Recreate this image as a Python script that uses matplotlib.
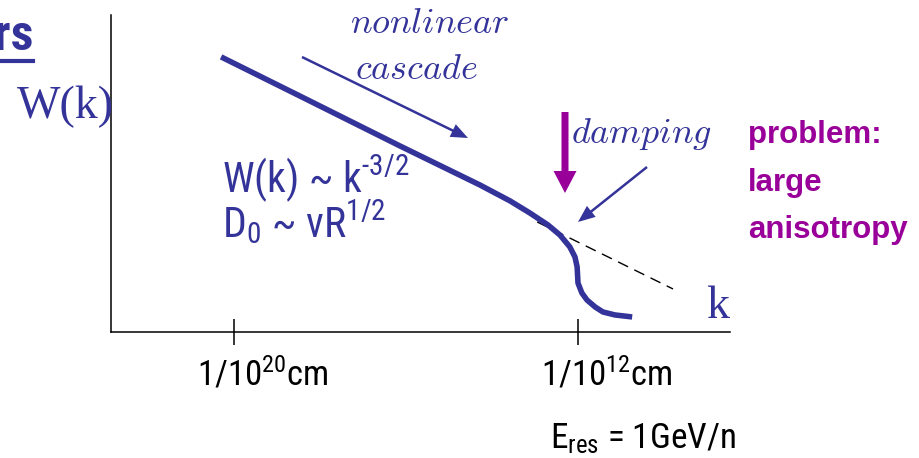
import matplotlib
matplotlib.use("Agg")
import matplotlib.pyplot as plt
from matplotlib.patches import FancyArrow
from matplotlib.transforms import IdentityTransform
from matplotlib.lines import Line2D

# ---------------- data (log10 k [1/cm], log10 W arbitrary units) ----------------
curve_logk = [-20.30, -18.47, -16.14, -14.28, -13.58, -13.12, -12.70, -12.42,
              -12.19, -12.07, -12.02, -12.00, -11.91, -11.79, -11.60, -11.42,
              -11.14, -10.74]
curve_logW = [19.37, 16.62, 13.10, 10.35, 9.23, 8.38, 7.54, 6.83,
              5.99, 5.28, 4.58, 3.45, 2.75, 2.25, 1.76, 1.41,
              1.20, 1.06]
dashed_logk = [-12.95, -9.79]
dashed_logW = [7.75, 3.03]
tick_positions = [-20, -12]
tick_labels = [r"1/10$^{20}$cm", r"1/10$^{12}$cm"]

BLUE = "#333399"
MAGENTA = "#990099"
W, H = 920, 458
DPI = 100

COND = "Roboto Condensed"
plt.rcParams["mathtext.fontset"] = "custom"
plt.rcParams["mathtext.rm"] = COND
plt.rcParams["mathtext.it"] = COND
plt.rcParams["mathtext.bf"] = COND + ":bold"
NARROW = [COND, "Liberation Sans", "DejaVu Sans"]

fig = plt.figure(figsize=(W / DPI, H / DPI), dpi=DPI)
fig.patch.set_facecolor("white")

def fx(px):
    return px / W

def fy(py):
    return 1 - py / H

ax_l, ax_r, ax_t, ax_b = 111, 730, 15, 332
ax = fig.add_axes([fx(ax_l), fy(ax_b), (ax_r - ax_l) / W, (ax_b - ax_t) / H])
ax.set_xlim(-22.86, -8.465)
ax.set_ylim(0, 22.32)
for s in ["top", "right"]:
    ax.spines[s].set_visible(False)
for s in ["left", "bottom"]:
    ax.spines[s].set_linewidth(1.1)
    ax.spines[s].set_color("black")
ax.set_yticks([])
ax.set_xticks(tick_positions)
ax.set_xticklabels([])
ax.tick_params(axis="x", direction="inout", length=19, width=1.1, color="black")
ax.patch.set_alpha(0)

ax.plot(curve_logk, curve_logW, color=BLUE, lw=4.0, solid_capstyle="butt",
        solid_joinstyle="round", zorder=3)
ax.plot(dashed_logk, dashed_logW, color="black", lw=1.0, dashes=(8, 5), zorder=2)

for t, lab in zip(tick_positions, tick_labels):
    ax.annotate(lab, xy=(t, 0), xycoords=("data", "axes fraction"),
                xytext=(-37, -54), textcoords="offset pixels",
                ha="left", va="baseline", fontsize=25, family=NARROW, color="black")

# texts
fig.text(fx(17), fy(118), "W(k)", fontsize=33, family="Liberation Serif",
         color=BLUE, ha="left", va="baseline")
fig.text(fx(706), fy(318), "k", fontsize=33, family="Liberation Serif",
         color=BLUE, ha="left", va="baseline")
fig.text(fx(350), fy(33), r"$nonlinear$", fontsize=26, math_fontfamily="cm",
         color=BLUE, ha="left", va="baseline")
fig.text(fx(355), fy(79), r"$cascade$", fontsize=26, math_fontfamily="cm",
         color=BLUE, ha="left", va="baseline")
fig.text(fx(571), fy(143), r"$damping$", fontsize=26, math_fontfamily="cm",
         color=BLUE, ha="left", va="baseline")
for txt, by in zip(["problem:", "large", "anisotropy"], [143, 191, 238]):
    fig.text(fx(748), fy(by), txt, fontsize=22.5, family="Liberation Sans",
             weight="bold", color=MAGENTA, ha="left", va="baseline")
fig.text(fx(222), fy(192), r"W(k) ~ k$^{\text{-3/2}}$", fontsize=30, family=NARROW,
         color=BLUE, ha="left", va="baseline")
fig.text(fx(222), fy(238), r"D$_0$ ~ vR$^{1/2}$", fontsize=30, family=NARROW,
         color=BLUE, ha="left", va="baseline")
fig.text(fx(550), fy(448), r"E$_{\mathrm{res}}$ = 1GeV/n", fontsize=25.3, family=NARROW,
         color="black", ha="left", va="baseline")

# cropped slide title fragment
fig.text(fx(33), fy(50), "ers", fontsize=36, family=COND,
         weight="bold", color=BLUE, ha="right", va="baseline")
fig.add_artist(Line2D([fx(0), fx(33)], [fy(61), fy(61)], color=BLUE, lw=3,
                      transform=fig.transFigure))

# arrows (display pixels)
def arrow(x0, y0, x1, y1, color, width, hw, hl):
    a = FancyArrow(x0, H - y0, x1 - x0, -(y1 - y0), width=width, head_width=hw,
                   head_length=hl, length_includes_head=True, color=color,
                   transform=IdentityTransform(), lw=0)
    fig.add_artist(a)

arrow(302, 57, 468, 138, BLUE, 2.5, 14, 17)
arrow(647, 167, 578, 222, BLUE, 2.5, 14, 17)
arrow(565, 112, 565, 193, MAGENTA, 7, 23, 22)

fig.savefig("out.png", dpi=DPI)
